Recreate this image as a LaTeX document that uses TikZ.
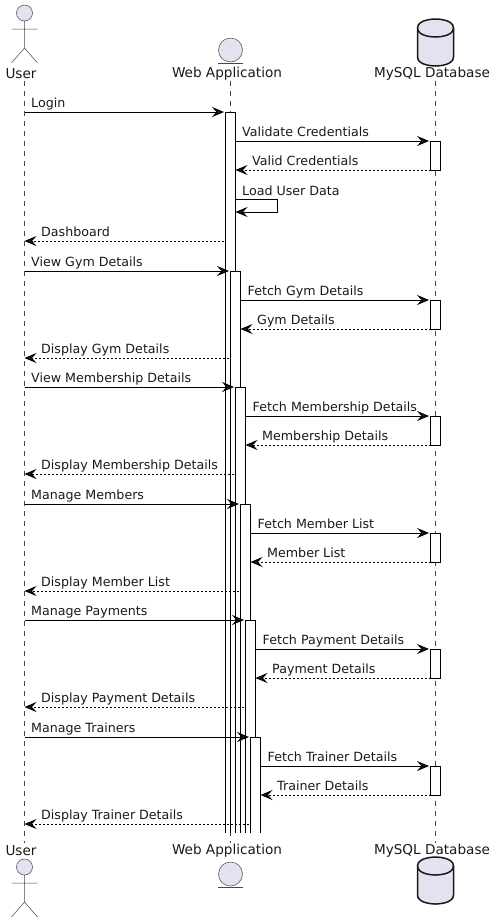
\documentclass[tikz,border=0pt]{standalone}
\usepackage{fontspec}
\setmainfont{DejaVu Sans}
\usetikzlibrary{arrows.meta}
\definecolor{partfill}{HTML}{E2E2F0}
\definecolor{partline}{HTML}{181818}
\tikzset{
	head/.style={font=\fontsize{13.6}{16}\selectfont, inner sep=0pt, text=black!90},
	msg/.style={font=\fontsize{12.65}{15}\selectfont, inner sep=0pt, anchor=base west, text=black!90},
	life/.style={draw=partline!80, line width=0.5pt, dash pattern=on 5pt off 5pt},
	barfill/.style={fill=white, inner sep=0pt, outer sep=0pt, minimum width=10pt, anchor=north west},
	dbbar/.style={barfill, draw=black, line width=1pt, minimum height=29pt},
	call/.style={draw=black, line width=1pt, -{Stealth[length=12pt, width=10pt, inset=4.5pt, fill=partline]}, shorten >=1.5pt},
	reply/.style={call, dash pattern=on 2pt off 2pt, shorten >=0pt},
	actor/.pic={
		\draw[partline!80, line width=0.5pt, fill=partfill] (0,13) circle (8);
		\draw[partline!80, line width=0.5pt] (0,21) -- (0,48) (-13,29) -- (13,29) (-13,63) -- (0,48) -- (13,63);
	},
	entity/.pic={
		\draw[partline!80, line width=0.5pt, fill=partfill] (0,50) circle (12);
		\draw[partline!80, line width=0.5pt] (-12.5,63) -- (12.5,63);
	},
	database/.pic={
		\draw[partline, line width=1.5pt, fill=partfill] (-18,28) .. controls (-18,19) and (0,19) .. (0,19) .. controls (0,19) and (18,19) .. (18,28) -- (18,57) .. controls (18,66) and (0,66) .. (0,66) .. controls (0,66) and (-18,66) .. (-18,57) -- cycle;
		\draw[partline, line width=1.5pt] (-18,28) .. controls (-18,37) and (0,37) .. (0,37) .. controls (0,37) and (18,37) .. (18,28);
	}
}

\begin{document}
\begin{tikzpicture}[x=1pt, y=-1pt]
	\useasboundingbox (0,0) rectangle (496,922);

	% lifelines
	\coordinate (userTop) at (24.5,81);
	\coordinate (userBot) at (24.5,843);
	\coordinate (webTop) at (230.5,81);
	\coordinate (webBot) at (230.5,843);
	\coordinate (dbTop) at (435.5,81);
	\coordinate (dbBot) at (435.5,843);
	\draw[life] (userTop) -- (userBot);
	\draw[life] (webTop) -- (webBot);
	\draw[life] (dbTop) -- (dbBot);

	% participants, top and bottom
	\pic at (24.5,0) {actor};
	\pic at (230.5,0) {entity};
	\pic at (435.5,0) {database};
	\node[head] (userHead) at (21,73.5) {User};
	\node[head] (webHead) at (227,73.5) {Web Application};
	\node[head] (dbHead) at (432,73.5) {MySQL Database};
	\pic at (24.5,854) {actor};
	\pic at (230.5,824) {entity};
	\pic at (435.5,838) {database};
	\node[head] (userFoot) at (21,850.5) {User};
	\node[head] (webFoot) at (227,850.5) {Web Application};
	\node[head] (dbFoot) at (432,850.5) {MySQL Database};

	% first activation, login
	\node[barfill, minimum height=721pt] (act0) at (225.5,112) {};
	\draw[line width=1pt] (act0.south west) -- (act0.north west) -- (act0.north east) -- (act0.south east);
	\coordinate (loginFrom) at (userTop |- act0.north);
	\draw[call] (loginFrom) -- (act0.north west);
	\node[msg] (loginText) at (31,107) {Login};

	\node[dbbar] (db0) at (430.5,141) {};
	\draw[call] (act0.east |- db0.north west) -- (db0.north west);
	\node[msg] (validText) at (242,136) {Validate Credentials};
	\draw[reply] (db0.south west) -- (act0.east |- db0.south west);
	\node[msg] (replyText) at (252,165) {Valid Credentials};

	\coordinate (loadA) at (act0.east |- 0,199);
	\coordinate (loadB) at (277.5,199);
	\coordinate (loadC) at (277.5,212);
	\coordinate (loadD) at (act0.east |- 0,212);
	\draw[call, shorten >=0pt] (loadA) -- (loadB) -- (loadC) -- (loadD);
	\node[msg] (loadText) at (242,195) {Load User Data};

	\coordinate (dashFrom) at ([xshift=-1.5pt]act0.west |- 0,241);
	\coordinate (dashTo) at (userTop |- dashFrom);
	\draw[reply] (dashFrom) -- (dashTo);
	\node[msg] (dashText) at (41,236) {Dashboard};

	% one block for each menu entry
	\foreach \i/\x/\y/\ask/\fetch/\got/\show in {
		1/230.5/271/View Gym Details/Fetch Gym Details/Gym Details/Display Gym Details,
		2/235.5/387/View Membership Details/Fetch Membership Details/Membership Details/Display Membership Details,
		3/240.5/504/Manage Members/Fetch Member List/Member List/Display Member List,
		4/245.5/620/Manage Payments/Fetch Payment Details/Payment Details/Display Payment Details,
		5/250.5/737/Manage Trainers/Fetch Trainer Details/Trainer Details/Display Trainer Details%
	}{
		\pgfmathsetmacro{\h}{833-\y}
		\pgfmathsetmacro{\a}{\y-5}
		\pgfmathsetmacro{\b}{\y+29}
		\pgfmathsetmacro{\c}{\y+24}
		\pgfmathsetmacro{\d}{\y+53}
		\pgfmathsetmacro{\e}{\y+87}
		\pgfmathsetmacro{\f}{\y+82.4}
		\pgfmathsetmacro{\g}{\x+17}
		\pgfmathsetmacro{\k}{\x+26.5}
		\node[barfill, minimum height=\h pt] (act\i) at (\x,\y) {};
		\draw[line width=1pt] (act\i.south west) -- (act\i.north west) -- (act\i.north east) -- (act\i.south east);
		\coordinate (ask\i) at (userTop |- act\i.north);
		\draw[call] (ask\i) -- (act\i.north west);
		\node[msg] (askText\i) at (31,\a) {\ask};
		\node[dbbar] (db\i) at (430.5,\b) {};
		\draw[call] (act\i.east |- db\i.north west) -- (db\i.north west);
		\node[msg] (fetchText\i) at (\g,\c) {\fetch};
		\draw[reply] (db\i.south west) -- (act\i.east |- db\i.south west);
		\node[msg] (gotText\i) at (\k,\d) {\got};
		\coordinate (show\i) at ([xshift=-2pt]act\i.west |- 0,\e);
		\coordinate (showEnd\i) at (userTop |- show\i);
		\draw[reply] (show\i) -- (showEnd\i);
		\node[msg] (showText\i) at (41,\f) {\show};
	}
\end{tikzpicture}
\end{document}
